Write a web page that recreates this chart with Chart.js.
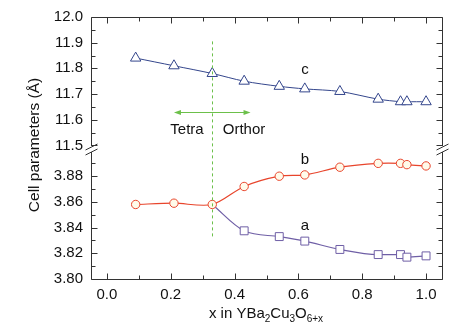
<!DOCTYPE html>
<html>
<head>
<meta charset="utf-8">
<script src="https://cdn.jsdelivr.net/npm/chart.js@4"></script>
<style>
  html, body { margin: 0; padding: 0; background: #fff; }
  #wrap { width: 463px; height: 335px; }
</style>
</head>
<body>
<div id="wrap"><canvas id="cell-chart" width="463" height="335"></canvas></div>
<script>
// data
let xValues = [0.09, 0.21, 0.33, 0.43, 0.54, 0.62, 0.73, 0.85, 0.92, 0.94, 1.0]
let cValues = [11.84, 11.81, 11.78, 11.75, 11.73, 11.72, 11.71, 11.68, 11.67, 11.67, 11.67]
let bValues = [3.858, 3.859, 3.858, 3.872, 3.880, 3.881, 3.887, 3.890, 3.890, 3.889, 3.888]
let xA = [0.33, 0.43, 0.54, 0.62, 0.73, 0.85, 0.92, 0.94, 1.0]
let aValues = [3.858, 3.8375, 3.833, 3.8295, 3.823, 3.819, 3.819, 3.817, 3.818]

let xTicks = [0.0, 0.2, 0.4, 0.6, 0.8, 1.0]
let cTicks = [11.5, 11.6, 11.7, 11.8, 11.9, 12.0]
let abTicks = [3.80, 3.82, 3.84, 3.86, 3.88]

let transitionX = 0.33

let font = "'Liberation Sans', Arial, sans-serif"

function points(xs, ys) {
    return xs.map(function(x, i) { return {x: x, y: ys[i]} })
}

// frame, inward ticks, axis break, annotations
let decorPlugin = {
    id: 'decor',
    afterDraw: function(chart) {
        let ctx = chart.ctx
        let ca = chart.chartArea
        let sx = chart.scales.x
        let yc = chart.scales.yc
        let yab = chart.scales.yab
        let L = Math.round(ca.left) + 0.5
        let R = Math.round(ca.right) + 0.5
        let T = Math.round(ca.top) + 0.5
        let B = Math.round(ca.bottom) + 0.5
        let brk = Math.round(yab.top) - 2

        ctx.save()
        ctx.strokeStyle = '#333'
        ctx.lineWidth = 1
        ctx.beginPath()
        // top & bottom
        ctx.moveTo(L, T); ctx.lineTo(R, T)
        ctx.moveTo(L, B); ctx.lineTo(R, B)
        // left & right with a gap for the break
        ctx.moveTo(L, T); ctx.lineTo(L, brk - 3)
        ctx.moveTo(L, brk + 3); ctx.lineTo(L, B)
        ctx.moveTo(R, T); ctx.lineTo(R, brk - 3)
        ctx.moveTo(R, brk + 3); ctx.lineTo(R, B)

        // x ticks
        for (let k = 0; k <= 10; k++) {
            let px = Math.round(sx.getPixelForValue(k / 10)) + 0.5
            let len = k % 2 === 0 ? 6 : 4
            ctx.moveTo(px, B); ctx.lineTo(px, B - len)
            ctx.moveTo(px, T); ctx.lineTo(px, T + len)
        }
        // upper y ticks
        for (let k = 0; k <= 10; k++) {
            let py = Math.round(yc.getPixelForValue(11.5 + k * 0.05)) + 0.5
            let len = k % 2 === 0 ? 6 : 4
            ctx.moveTo(L, py); ctx.lineTo(L + len, py)
            ctx.moveTo(R, py); ctx.lineTo(R - len, py)
        }
        // lower y ticks
        for (let k = 0; k <= 9; k++) {
            let py = Math.round(yab.getPixelForValue(3.80 + k * 0.01)) + 0.5
            let len = k % 2 === 0 ? 6 : 4
            ctx.moveTo(L, py); ctx.lineTo(L + len, py)
            ctx.moveTo(R, py); ctx.lineTo(R - len, py)
        }
        ctx.stroke()

        // break marks
        ctx.beginPath()
        ;[L, R].forEach(function(ax) {
            ctx.moveTo(ax - 6, brk + 1); ctx.lineTo(ax + 6, brk - 5)
            ctx.moveTo(ax - 6, brk + 6); ctx.lineTo(ax + 6, brk)
        })
        ctx.stroke()

        // dashed transition line
        let tx = Math.round(sx.getPixelForValue(transitionX)) + 0.5
        ctx.strokeStyle = '#6cc04a'
        ctx.setLineDash([3, 3])
        ctx.beginPath()
        ctx.moveTo(tx, yc.getPixelForValue(11.905))
        ctx.lineTo(tx, yab.getPixelForValue(3.831))
        ctx.stroke()
        ctx.setLineDash([])

        // double arrow
        let ay = Math.round(yc.getPixelForValue(11.63)) + 0.5
        let ax1 = sx.getPixelForValue(0.21)
        let ax2 = sx.getPixelForValue(0.45)
        ctx.fillStyle = '#6cc04a'
        ctx.beginPath()
        ctx.moveTo(ax1 + 6, ay); ctx.lineTo(ax2 - 6, ay)
        ctx.stroke()
        ctx.beginPath()
        ctx.moveTo(ax1, ay); ctx.lineTo(ax1 + 7, ay - 2.5); ctx.lineTo(ax1 + 7, ay + 2.5); ctx.closePath()
        ctx.moveTo(ax2, ay); ctx.lineTo(ax2 - 7, ay - 2.5); ctx.lineTo(ax2 - 7, ay + 2.5); ctx.closePath()
        ctx.fill()

        // text labels
        ctx.fillStyle = '#111'
        ctx.font = '15px ' + font
        ctx.textAlign = 'center'
        ctx.textBaseline = 'middle'
        ctx.fillText('Tetra', 187, 130)
        ctx.fillText('Orthor', 244, 130)
        ctx.fillText('c', 305, 70)
        ctx.fillText('b', 305, 160)
        ctx.fillText('a', 305, 226)

        // y title
        ctx.save()
        ctx.translate(35, 145)
        ctx.rotate(-Math.PI / 2)
        ctx.font = '15.5px ' + font
        ctx.fillText('Cell parameters (Å)', 0, 0)
        ctx.restore()

        // x title with subscripts
        let parts = [['x in YBa', 0], ['2', 1], ['Cu', 0], ['3', 1], ['O', 0], ['6+x', 1]]
        let big = '15px ' + font
        let small = '10px ' + font
        let total = 0
        parts.forEach(function(p) {
            ctx.font = p[1] ? small : big
            total += ctx.measureText(p[0]).width
        })
        let cx = 266 - total / 2
        let baseY = 318
        ctx.textAlign = 'left'
        ctx.textBaseline = 'alphabetic'
        parts.forEach(function(p) {
            ctx.font = p[1] ? small : big
            ctx.fillText(p[0], cx, p[1] ? baseY + 4 : baseY)
            cx += ctx.measureText(p[0]).width
        })
        ctx.restore()
    }
}

let canvas = document.querySelector('#cell-chart')
let context = canvas.getContext('2d')

let tickFont = { family: font, size: 15 }

let chart = new Chart(context, {
    type: 'line',
    data: {
        datasets: [
            {
                label: 'c',
                data: points(xValues, cValues),
                yAxisID: 'yc',
                borderColor: '#34468c',
                borderWidth: 1,
                backgroundColor: '#ffffff',
                pointStyle: 'triangle',
                pointRadius: 6,
                pointBorderWidth: 1,
                tension: 0.3,
                order: 3
            },
            {
                label: 'b',
                data: points(xValues, bValues),
                yAxisID: 'yab',
                borderColor: '#e8452c',
                borderWidth: 1.2,
                backgroundColor: '#fffbea',
                pointStyle: 'circle',
                pointRadius: 4.2,
                pointBorderWidth: 1,
                tension: 0.3,
                order: 1
            },
            {
                label: 'a',
                data: points(xA, aValues),
                yAxisID: 'yab',
                borderColor: '#6f5fa6',
                borderWidth: 1.2,
                backgroundColor: '#ffffff',
                pointStyle: 'rect',
                pointRadius: xA.map(function(v, i) { return i === 0 ? 0 : 5.6 }),
                pointBorderWidth: 1,
                cubicInterpolationMode: 'monotone',
                order: 2
            }
        ]
    },
    options: {
        responsive: false,
        animation: false,
        layout: { padding: { top: 17, right: 21, left: 0, bottom: 0 } },
        plugins: {
            legend: { display: false },
            tooltip: { enabled: false }
        },
        scales: {
            x: {
                type: 'linear',
                min: -0.05,
                max: 1.05,
                grid: { display: false, drawTicks: false },
                border: { display: false },
                afterBuildTicks: function(scale) {
                    scale.ticks = xTicks.map(function(v) { return {value: v} })
                },
                afterFit: function(scale) { scale.height = 56 },
                ticks: {
                    padding: 7,
                    color: '#111',
                    font: tickFont,
                    maxRotation: 0,
                    autoSkip: false,
                    callback: function(v) { return Number(v).toFixed(1) }
                }
            },
            yab: {
                type: 'linear',
                position: 'left',
                stack: 'cell',
                stackWeight: 128,
                min: 3.80,
                max: 3.90,
                grid: { display: false, drawTicks: false },
                border: { display: false },
                afterBuildTicks: function(scale) {
                    scale.ticks = abTicks.map(function(v) { return {value: v} })
                },
                afterFit: function(scale) { scale.width = 91 },
                ticks: {
                    padding: 8,
                    color: '#111',
                    font: tickFont,
                    autoSkip: false,
                    callback: function(v) { return Number(v).toFixed(2) }
                }
            },
            yc: {
                type: 'linear',
                position: 'left',
                stack: 'cell',
                stackWeight: 133,
                min: 11.48,
                max: 12.0,
                grid: { display: false, drawTicks: false },
                border: { display: false },
                afterBuildTicks: function(scale) {
                    scale.ticks = cTicks.map(function(v) { return {value: v} })
                },
                afterFit: function(scale) { scale.width = 91 },
                ticks: {
                    padding: 8,
                    color: '#111',
                    font: tickFont,
                    autoSkip: false,
                    callback: function(v) { return Number(v).toFixed(1) }
                }
            }
        }
    },
    plugins: [decorPlugin]
})
</script>
</body>
</html>
